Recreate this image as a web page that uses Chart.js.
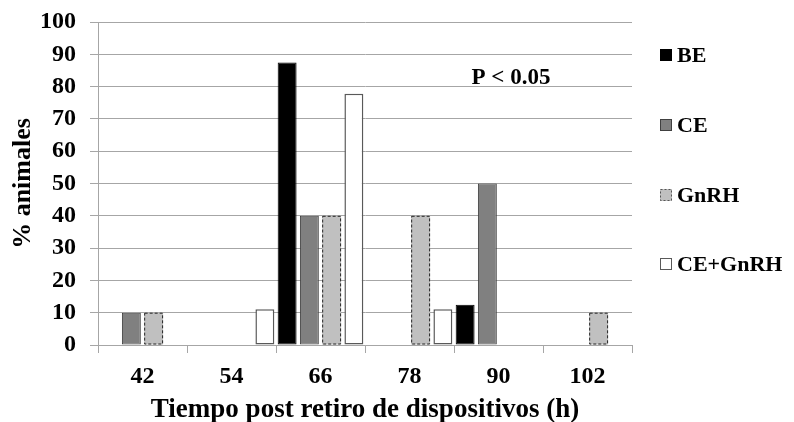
<!DOCTYPE html>
<html>
<head>
<meta charset="utf-8">
<script src="https://cdn.jsdelivr.net/npm/chart.js@4"></script>
<style>
  html,body{ margin:0; padding:0; background:#fff; }
  #wrap{ width:794px; height:422px; }
</style>
</head>
<body>
<div id="wrap"><canvas id="chart" width="794" height="422"></canvas></div>
<script>
const categories = ['42','54','66','78','90','102'];
const seriesNames = ['BE','CE','GnRH','CE+GnRH'];
const beValues     = [0, 0, 87.5, 0, 12.5, 0];
const ceValues     = [10, 0, 40, 0, 50, 0];
const gnrhValues   = [10, 0, 40, 40, 0, 10];
const ceGnrhValues = [0, 11.1, 77.8, 11.1, 0, 0];
const yTicks = [0,10,20,30,40,50,60,70,80,90,100];

const SERIF = '"Liberation Serif", "Times New Roman", serif';
const GRID = '#a6a6a6';

const styles = [
  { bg:'#000000', border:'#000000', bw:1 },
  { bg:'#808080', border:'#404040', bw:1 },
  { bg:'#c0c0c0', border:'#c0c0c0', bw:0, dash:true },
  { bg:'#ffffff', border:'#595959', bw:1.5 },
];

// dashed outline for GnRH bars (bar element can't dash its border)
const dashedBars = {
  id:'dashedBars',
  afterDatasetsDraw(chart){
    const ctx = chart.ctx;
    chart.data.datasets.forEach((ds, i) => {
      if(!styles[i].dash) return;
      const meta = chart.getDatasetMeta(i);
      meta.data.forEach((bar, j) => {
        if(!ds.data[j]) return;
        const p = bar.getProps(['x','y','base','width'], true);
        ctx.save();
        ctx.strokeStyle = '#262626';
        ctx.lineWidth = 1;
        ctx.setLineDash([3,2]);
        ctx.strokeRect(p.x - p.width/2 + .5, p.y + .5, p.width - 1, p.base - p.y - 1);
        ctx.restore();
      });
    });
  }
};

const sideLegend = {
  id:'sideLegend',
  afterDraw(chart){
    const ctx = chart.ctx;
    const ys = [55,125,195,264];
    ctx.save();
    ctx.font = 'bold 22px ' + SERIF;
    ctx.textBaseline = 'middle';
    ctx.textAlign = 'left';
    seriesNames.forEach((name, i) => {
      const s = styles[i];
      const x = 660, y = ys[i] - 6;
      ctx.fillStyle = s.bg;
      ctx.fillRect(x, y, 12, 12);
      ctx.lineWidth = 1;
      if(s.dash){ ctx.setLineDash([2,2]); ctx.strokeStyle = '#555'; }
      else { ctx.setLineDash([]); ctx.strokeStyle = s.border; }
      ctx.strokeRect(x + .5, y + .5, 11, 11);
      ctx.setLineDash([]);
      ctx.fillStyle = '#000';
      ctx.fillText(name, 677, ys[i] + 1);
    });
    ctx.restore();
  }
};

const pNote = {
  id:'pNote',
  afterDraw(chart){
    const ctx = chart.ctx;
    const y = chart.scales.y.getPixelForValue(82.5);
    ctx.save();
    ctx.font = 'bold 23px ' + SERIF;
    ctx.fillStyle = '#000';
    ctx.textAlign = 'center';
    ctx.textBaseline = 'middle';
    ctx.fillText('P < 0.05', 511, y);
    ctx.restore();
  }
};

new Chart(document.getElementById('chart'), {
  type:'bar',
  data:{
    labels: categories,
    datasets: [beValues, ceValues, gnrhValues, ceGnrhValues].map((vals, i) => ({
      label: seriesNames[i],
      data: vals,
      backgroundColor: styles[i].bg,
      borderColor: styles[i].border,
      borderWidth: styles[i].bw,
      borderSkipped: false,
      categoryPercentage: 1.0,
      barPercentage: 0.85
    }))
  },
  options:{
    responsive:false,
    animation:false,
    devicePixelRatio:1,
    layout:{ padding:{ top:22, right:162, left:0, bottom:0 } },
    plugins:{ legend:{ display:false }, tooltip:{ enabled:false } },
    scales:{
      x:{
        grid:{ drawOnChartArea:false, drawTicks:true, tickLength:8, color:GRID, offset:true },
        border:{ color:GRID },
        ticks:{ color:'#000', font:{ family:SERIF, size:24, weight:'bold' }, padding:9 },
        title:{ display:true, text:'Tiempo post retiro de dispositivos (h)', color:'#000',
                font:{ family:SERIF, size:27, weight:'bold', lineHeight:0.85 }, padding:{ top:0, bottom:0 } },
        afterFit(scale){ scale.height = 77; }
      },
      y:{
        min:0, max:100,
        afterBuildTicks(scale){ scale.ticks = yTicks.map(v => ({ value:v })); },
        grid:{ color:GRID, tickLength:8 },
        border:{ color:GRID },
        ticks:{ color:'#000', font:{ family:SERIF, size:24, weight:'bold' }, padding:14, autoSkip:false },
        title:{ display:true, text:'% animales', color:'#000',
                font:{ family:SERIF, size:26, weight:'bold' }, padding:{ top:8, bottom:0 } },
        afterFit(scale){ scale.width = 98; scale.paddingTop = 0; scale.paddingBottom = 0; }
      }
    }
  },
  plugins:[dashedBars, sideLegend, pNote]
});
</script>
</body>
</html>
